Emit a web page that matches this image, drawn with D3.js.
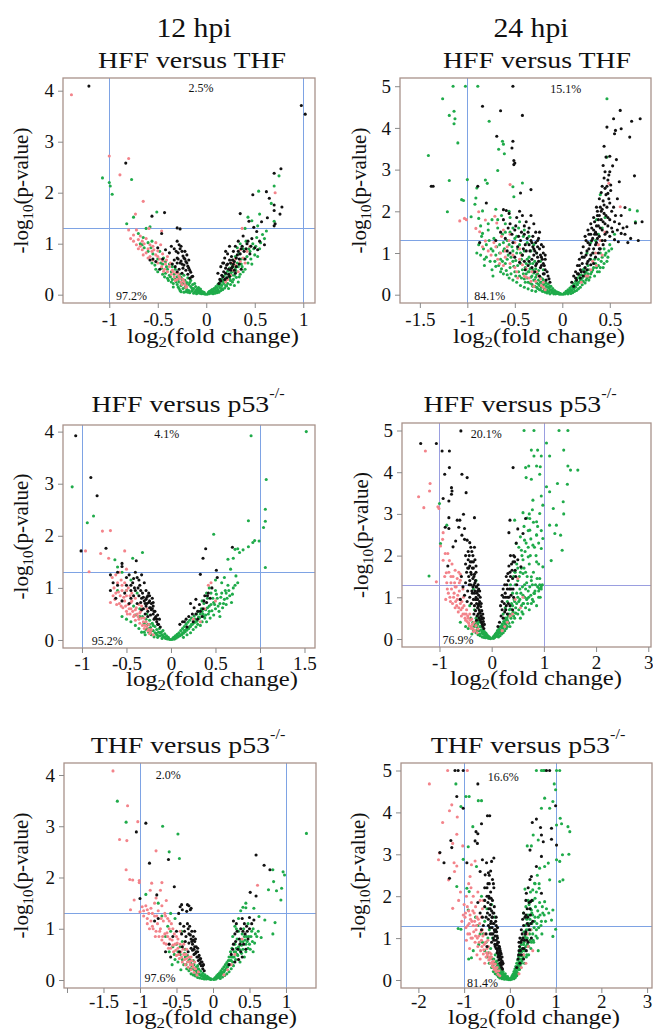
<!DOCTYPE html>
<html><head><meta charset="utf-8">
<script src="https://cdn.jsdelivr.net/npm/d3@7"></script>
<style>
body{margin:0;background:#fff}
svg{display:block}
text{font-family:"Liberation Serif","Times New Roman",serif;fill:#111}
</style>
</head><body>
<svg id="c" width="653" height="1032"></svg>
<script>
// ---------------- DATA ----------------
const timeLabels = ["12 hpi", "24 hpi"];
const panelTitles = ["HFF versus THF", "HFF versus THF", "HFF versus p53", "HFF versus p53", "THF versus p53", "THF versus p53"];
const titleSup = [null, null, "-/-", "-/-", "-/-", "-/-"];
const pctAbove = ["2.5%", "15.1%", "4.1%", "20.1%", "2.0%", "16.6%"];
const pctBelow = ["97.2%", "84.1%", "95.2%", "76.9%", "97.6%", "81.4%"];
const xTickValues = [[-1,-0.5,0,0.5,1],[-1.5,-1,-0.5,0,0.5],[-1,-0.5,0,0.5,1,1.5],[-1,0,1,2,3],[-2,-1.5,-1,-0.5,0,0.5,1],[-2,-1,0,1,2,3]];
const xTickUnlabelled = [[],[],[],[],[-2],[]];
const yTickValues = [[0,1,2,3,4],[0,1,2,3,4,5],[0,1,2,3,4],[0,1,2,3,4,5],[0,1,2,3,4],[0,1,2,3,4,5]];
const pValueCut = 1.3;
const foldCuts = [-1, 1];

// Panel 1: 12 hpi HFF vs THF
const p1Black = [[-1.21,4.09],[0.98,3.71],[1.02,3.54],[-0.83,2.58],[-0.56,1.54],[-0.43,1.61],[-0.30,1.31],[-0.27,1.29],[-0.46,1.2],
[0.77,2.47],[0.70,2.38],[0.62,2.02],[0.48,1.96],[0.65,1.89],[0.70,1.76],[0.78,1.72],[0.70,1.65],[0.76,1.58],[0.71,1.39],[0.70,1.35],[0.35,1.59],[0.44,1.44],[0.57,1.43],[0.63,1.51],[0.49,1.32],[0.52,1.24],
[0.47,1.1],[0.55,1.05],[0.6,0.98],[0.5,0.92],[0.42,1.0],[0.38,1.15],[0.36,0.9],[0.33,1.05],[0.3,0.95],[0.28,0.85],[0.32,0.78],[0.26,0.75],[0.24,0.68],[0.29,0.65],[0.22,0.6],[0.27,0.55],[0.2,0.52],[0.25,0.48],[0.18,0.45],[0.23,0.4],[0.16,0.38],[0.21,0.33],[0.14,0.3],[0.19,0.72],[0.17,0.62],[0.34,0.6],[0.4,0.7],[0.45,0.8],[0.53,0.88],[0.3,0.42],[0.36,0.5],[0.22,0.8],[0.15,0.55],[0.12,0.42],
[0.13,0.22],[0.15,0.27],[0.17,0.35],[0.19,0.3],[0.2,0.42],[0.21,0.58],[0.23,0.5],[0.24,0.36],[0.25,0.62],[0.26,0.52],[0.27,0.68],[0.28,0.6],[0.29,0.48],[0.31,0.72],[0.31,0.55],[0.33,0.85],[0.34,0.7],[0.35,0.8],[0.37,0.95],[0.39,0.85],[0.41,0.9],[0.43,1.05],[0.46,0.95],[0.24,0.95],[0.2,0.85],[0.18,0.62],
[-0.3,1.05],[-0.28,0.98],[-0.27,0.9],[-0.25,0.85],[-0.29,0.82],[-0.24,0.76],[-0.22,0.7],[-0.26,0.66],[-0.2,0.62],[-0.23,0.58],[-0.18,0.52],[-0.21,0.48],[-0.16,0.44],[-0.19,0.4],[-0.14,0.36],[-0.17,0.32],[-0.3,0.72],[-0.33,0.68],[-0.35,0.6],[-0.32,0.55],[-0.28,0.5],[-0.38,0.82],[-0.42,0.88],[-0.5,0.92],[-0.55,0.7],[-0.48,0.5],[-0.36,0.95],[-0.3,0.62],[-0.25,0.42],[-0.58,0.68],
[-0.15,0.35],[-0.17,0.48],[-0.19,0.56],[-0.21,0.65],[-0.23,0.72],[-0.25,0.6],[-0.27,0.62],[-0.29,0.7],[-0.31,0.85],[-0.33,0.9],[-0.26,0.95],[-0.22,0.85],[-0.2,0.78],[-0.18,0.68],[-0.24,0.52],[-0.45,0.7],[-0.52,0.65],[-0.3,0.45]];
const p1Pink = [[-1.39,3.92],[-1.0,2.72],[-0.80,2.67],[-0.89,2.35],[-0.65,1.83],[-0.73,1.58],[-0.80,1.27],[-0.75,1.17],[-0.78,1.10],[-0.72,1.27],[-0.59,1.30],[-0.46,1.25],[0.71,2.0],
[-0.75,1.05],[-0.72,0.98],[-0.7,1.08],[-0.68,0.95],[-0.66,0.88],[-0.64,1.0],[-0.62,0.82],[-0.6,0.9],[-0.58,0.75],[-0.56,0.85],[-0.55,0.68],[-0.52,0.78],[-0.5,0.62],[-0.48,0.7],[-0.46,0.55],[-0.45,0.66],[-0.43,0.5],[-0.42,0.6],[-0.4,0.45],[-0.38,0.55],[-0.36,0.4],[-0.35,0.48],[-0.33,0.35],[-0.31,0.42],[-0.3,0.3],[-0.28,0.36],[-0.26,0.25],[-0.24,0.3],[-0.22,0.2],[-0.2,0.16],[-0.55,0.95],[-0.5,0.86],[-0.45,0.8],[-0.62,1.1],[-0.68,1.15],[-0.4,0.75],[-0.52,1.02],[-0.47,0.98],[-0.65,0.78],[-0.6,0.72],
[-0.7,0.9],[-0.66,1.05],[-0.58,0.98],[-0.54,0.88],[-0.5,0.75],[-0.44,0.46],[-0.41,0.68],[-0.37,0.62],[-0.34,0.45],[-0.32,0.28],[-0.29,0.42],[-0.27,0.32],[-0.25,0.2],[-0.23,0.26],[-0.21,0.14],
[0.38,0.72],[0.35,0.65],[0.4,0.62],[0.28,0.48],[0.3,0.58],[0.25,0.38],[0.33,0.45],[0.37,1.3],[0.45,0.95],[0.22,0.3],[0.2,0.25],[0.42,0.85],[0.3,0.7],[0.27,0.62],[0.35,0.88],[0.24,0.5]];
const p1Green = [[-1.07,2.29],[-1.0,2.2],[-0.99,2.13],[-0.97,1.97],[-0.77,2.26],[-0.75,1.52],[-0.51,1.62],[-0.82,1.39],[-0.58,1.33],[0.75,2.33],[0.70,2.13],[0.54,2.03],[0.67,1.79],[0.70,1.44],[0.55,1.58],[0.43,1.52],[0.53,1.35],[0.47,1.45],[0.4,1.3],
[-0.7,1.2],[-0.65,1.12],[-0.62,1.3],[-0.6,1.02],[-0.57,0.92],[-0.55,0.8],[-0.5,0.7],[-0.48,0.85],[-0.45,0.6],[-0.44,0.72],[-0.42,0.42],[-0.42,0.65],[-0.4,0.5],[-0.38,0.38],[-0.36,0.45],[-0.35,0.3],[-0.34,0.22],[-0.33,0.4],[-0.32,0.5],[-0.3,0.2],[-0.3,0.35],[-0.29,0.15],[-0.28,0.25],[-0.27,0.4],[-0.27,0.08],[-0.26,0.18],[-0.25,0.3],[-0.24,0.22],[-0.24,0.12],[-0.23,0.38],[-0.22,0.28],[-0.22,0.14],[-0.21,0.06],[-0.2,0.24],[-0.2,0.1],[-0.19,0.33],[-0.18,0.2],[-0.18,0.08],[-0.17,0.04],[-0.16,0.16],[-0.16,0.28],[-0.15,0.07],[-0.14,0.2],[-0.14,0.1],[-0.13,0.12],[-0.13,0.03],[-0.12,0.05],[-0.12,0.22],[-0.11,0.16],[-0.1,0.1],[-0.1,0.02],[-0.09,0.05],[-0.08,0.14],[-0.08,0.08],[-0.07,0.03],[-0.06,0.06],[-0.06,0.11],[-0.05,0.02],[-0.04,0.05],[-0.03,0.02],[-0.02,0.04],[-0.01,0.01],[-0.53,0.58],[-0.38,0.6],[-0.32,0.3],[-0.26,0.34],[-0.36,0.25],[-0.4,0.32],
[-0.68,1.0],[-0.64,0.92],[-0.6,0.85],[-0.56,0.62],[-0.52,0.5],[-0.5,0.45],[-0.47,0.62],[-0.45,0.4],[-0.43,0.35],[-0.41,0.55],[-0.39,0.28],[-0.37,0.35],[-0.35,0.55],[-0.34,0.15],[-0.31,0.25],[-0.29,0.3],[-0.28,0.12],[-0.26,0.06],[-0.25,0.22],[-0.23,0.05],[-0.21,0.2],[-0.19,0.05],[-0.17,0.24],[-0.15,0.13],[-0.11,0.07],[-0.09,0.12],[-0.07,0.1],[-0.05,0.07],[-0.03,0.05],[-0.46,0.52],[-0.56,1.05],[-0.66,0.98],
[0.01,0.01],[0.02,0.04],[0.03,0.02],[0.04,0.07],[0.05,0.03],[0.06,0.1],[0.06,0.05],[0.07,0.02],[0.08,0.12],[0.08,0.06],[0.09,0.03],[0.1,0.16],[0.1,0.08],[0.11,0.04],[0.12,0.2],[0.12,0.1],[0.13,0.05],[0.14,0.24],[0.14,0.14],[0.15,0.08],[0.16,0.3],[0.16,0.18],[0.17,0.1],[0.18,0.36],[0.18,0.22],[0.19,0.13],[0.2,0.4],[0.2,0.28],[0.21,0.17],[0.22,0.46],[0.22,0.22],[0.23,0.12],[0.24,0.52],[0.24,0.32],[0.25,0.2],[0.26,0.6],[0.26,0.38],[0.27,0.25],[0.28,0.68],[0.28,0.3],[0.29,0.18],[0.3,0.5],[0.3,0.75],[0.31,0.34],[0.32,0.62],[0.33,0.25],[0.34,0.8],[0.35,0.4],[0.36,0.7],[0.37,0.55],[0.38,0.9],[0.4,0.5],[0.41,1.05],[0.43,0.62],[0.44,0.9],[0.46,0.7],[0.48,1.0],[0.5,0.78],[0.52,1.12],[0.55,0.9],[0.58,1.18],[0.35,1.0],[0.32,0.92],
[0.03,0.06],[0.05,0.08],[0.07,0.09],[0.09,0.12],[0.11,0.14],[0.13,0.18],[0.15,0.2],[0.17,0.26],[0.19,0.28],[0.21,0.3],[0.23,0.35],[0.25,0.42],[0.27,0.45],[0.29,0.38],[0.31,0.46],[0.33,0.55],[0.34,0.35],[0.36,0.6],[0.38,0.45],[0.39,0.7],[0.42,0.75],[0.45,0.85],[0.47,0.6],[0.49,0.9],[0.51,0.95],[0.53,0.75],[0.56,1.02],[0.6,1.1],[0.62,1.25],[0.28,0.55],[0.25,0.28],[0.2,0.18],[0.16,0.12],[0.12,0.08]];

// Panel 2: 24 hpi HFF vs THF
const p2Black = [[-0.52,5.0],[-0.84,4.52],[-0.65,4.41],[-0.42,4.3],[-0.69,3.8],[-0.52,3.68],[-0.53,3.52],[-0.51,3.22],[-0.5,3.16],[-0.51,3.12],[-1.36,2.6],[-1.38,2.6],[-0.89,2.6],[-0.33,2.52],[-0.44,2.44],[-0.8,2.2],[-0.62,2.04],[-0.59,2.02],[-0.56,1.95],
[0.61,4.42],[0.54,4.22],[0.82,4.22],[0.73,4.16],[0.47,4.02],[0.56,3.94],[0.62,3.98],[0.55,3.86],[0.71,3.78],[0.44,3.56],[0.5,3.32],[0.57,3.24],[0.53,3.09],[0.76,2.85],[0.6,2.71],[0.45,2.95],[0.49,2.87],[0.51,2.63],[0.48,2.43],[0.66,2.09],[0.77,1.72],[0.84,1.75],[0.62,1.47],[0.68,1.63],[0.53,1.51],[0.59,1.27],[0.69,1.25],[0.55,1.32],
[-0.3,1.7],[-0.35,1.6],[-0.28,1.5],[-0.25,1.35],[-0.38,1.75],[-0.42,1.9],[-0.45,2.0],[-0.48,1.85],[-0.4,1.45],[-0.32,1.25],[-0.3,1.1],[-0.27,1.0],[-0.22,0.9],[-0.25,0.8],[-0.2,0.75],[-0.23,0.65],[-0.18,0.6],[-0.2,0.5],[-0.15,0.45],[-0.17,0.35],[-0.13,0.3],[-0.35,1.2],[-0.38,1.05],[-0.3,0.95],[-0.27,0.75],[-0.32,0.85],[-0.44,1.3],[-0.5,1.55],[-0.55,1.7],[-0.6,1.35],[-0.52,1.25],[-0.47,1.15],[-0.42,0.95],[-0.36,0.7],[-0.29,0.55],[-0.24,0.45],[-0.22,1.2],[-0.2,1.0],[-0.18,0.85],[-0.26,1.3],[-0.24,1.1],[-0.31,1.4],[-0.33,1.9],[-0.36,1.5],[-0.4,1.65],[-0.65,1.5],[-0.7,1.3],[-0.58,1.05],[-0.45,0.78],[-0.39,0.6],[-0.5,0.9],[-0.55,1.0],[-0.87,1.25],
[-0.16,0.55],[-0.19,0.7],[-0.21,0.85],[-0.23,0.95],[-0.26,1.15],[-0.28,1.25],[-0.29,1.05],[-0.31,1.15],[-0.33,1.3],[-0.34,1.05],[-0.37,1.35],[-0.39,1.2],[-0.41,1.1],[-0.43,1.5],[-0.46,1.4],[-0.49,1.65],[-0.53,1.45],[-0.57,1.6],[-0.62,1.8],[-0.26,0.9],[-0.22,0.7],[-0.19,0.5],[-0.28,0.7],[-0.35,0.8],[-0.32,0.65],[-0.4,0.8],[-0.14,0.38],[-0.24,1.5],[-0.2,1.15],[-0.18,0.95],
[0.1,0.3],[0.12,0.45],[0.14,0.55],[0.15,0.35],[0.16,0.7],[0.17,0.5],[0.18,0.85],[0.19,0.6],[0.2,1.0],[0.21,0.75],[0.22,1.15],[0.23,0.9],[0.24,0.65],[0.25,1.3],[0.26,1.05],[0.27,0.8],[0.28,1.45],[0.29,1.2],[0.3,0.95],[0.31,1.6],[0.32,1.35],[0.33,1.1],[0.34,1.75],[0.35,1.5],[0.36,1.25],[0.37,1.9],[0.38,1.65],[0.39,1.4],[0.4,2.1],[0.41,1.8],[0.42,1.55],[0.43,2.25],[0.44,1.95],[0.45,1.7],[0.46,2.4],[0.47,2.1],[0.48,1.85],[0.5,2.2],[0.52,2.0],[0.36,2.1],[0.39,2.3],[0.42,2.6],[0.44,2.8],[0.33,1.85],[0.3,1.7],[0.27,1.55],[0.24,1.4],[0.4,1.1],[0.45,1.3],[0.5,1.4],[0.35,0.9],[0.38,1.0],[0.3,0.72],[0.26,0.6],[0.43,1.2],[0.47,1.5],[0.55,1.75],[0.58,1.55],[0.41,2.45],[0.37,2.0],[0.2,0.55],[0.22,0.45],
[0.12,0.2],[0.14,0.4],[0.16,0.5],[0.18,0.7],[0.19,0.4],[0.21,0.9],[0.23,0.55],[0.25,0.95],[0.26,0.75],[0.28,1.1],[0.29,0.85],[0.31,1.3],[0.32,1.0],[0.33,0.75],[0.34,1.45],[0.35,1.2],[0.36,1.65],[0.37,1.35],[0.38,1.8],[0.39,1.1],[0.4,1.6],[0.41,2.0],[0.42,1.3],[0.43,1.75],[0.44,2.15],[0.45,1.45],[0.46,1.9],[0.47,2.6],[0.48,1.65],[0.49,2.3],[0.5,1.8],[0.51,2.5],[0.52,1.6],[0.54,2.1],[0.56,1.9],[0.58,2.3],[0.6,1.7],[0.62,1.9],[0.64,1.6],[0.66,1.45],[0.72,1.35],[0.8,1.3],[0.3,1.45],[0.27,1.25],[0.33,1.55],[0.36,1.45],[0.39,1.9],[0.42,2.05],[0.45,2.55],[0.48,2.75],[0.5,2.95],[0.43,3.1],[0.46,3.3]];
const p2Pink = [[-0.55,2.64],[-1.03,1.83],[-1.01,1.8],[-1.08,1.77],[-0.88,1.99],[-0.81,1.79],[-0.71,1.88],[-0.69,1.72],[-0.91,1.59],[-0.87,1.51],[-0.81,1.29],[0.49,2.67],[0.61,2.11],
[-0.75,0.95],[-0.7,1.15],[-0.65,1.0],[-0.6,0.9],[-0.55,0.75],[-0.5,0.65],[-0.45,0.85],[-0.42,0.72],[-0.38,0.62],[-0.35,0.4],[-0.32,0.55],[-0.28,0.32],[-0.25,0.45],[-0.22,0.22],[-0.2,0.3],[-0.18,0.12],[-0.45,1.1],[-0.5,1.25],[-0.58,1.15],[-0.62,0.7],[-0.68,0.85],[-0.4,0.45],[-0.3,0.2],[-0.55,1.45],[-0.64,1.4],[-0.47,0.4],[-0.78,1.05],
[-0.66,0.75],[-0.6,1.05],[-0.52,0.95],[-0.48,0.55],[-0.43,0.95],[-0.38,0.42],[-0.33,0.32],[-0.27,0.55],[-0.23,0.38],[-0.2,0.18],[-0.62,1.55],[-0.56,1.3],[-0.72,1.25],[-0.84,1.15],
[0.3,0.6],[0.35,1.0],[0.25,0.45],[0.4,1.3],[0.32,0.8],[0.2,0.3],[0.38,1.2],[0.45,1.5],[0.27,0.45],[0.36,0.7],[0.42,0.95]];
const p2Green = [[-1.15,5.0],[-1.02,5.0],[-0.89,5.0],[-1.26,4.7],[-1.14,4.4],[-1.19,4.3],[-1.13,4.22],[-1.14,4.1],[-0.77,4.16],[-1.1,3.64],[-0.63,3.68],[-0.62,3.61],[-0.67,3.49],[-0.61,3.38],[-1.41,3.34],[-0.68,2.98],[-1.19,2.74],[-1.0,2.76],[-0.9,2.56],[-0.81,2.75],[-0.79,2.67],[-0.52,2.59],[-0.51,2.35],[-0.42,2.68],[-1.06,2.28],[-1.04,2.26],[-1.21,1.99],[-0.91,2.32],[-0.92,2.17],[-0.84,2.01],[-0.96,1.87],[-0.88,1.83],[-0.84,1.47],[0.47,4.7],[0.47,3.3],[0.71,2.04],[0.79,2.01],[0.77,1.75],
[-0.85,1.4],[-0.8,1.2],[-0.78,1.55],[-0.75,1.1],[-0.72,1.35],[-0.7,0.95],[-0.68,1.6],[-0.66,1.2],[-0.65,0.85],[-0.63,1.45],[-0.62,1.05],[-0.6,0.75],[-0.6,1.7],[-0.58,1.3],[-0.57,0.95],[-0.55,0.65],[-0.55,1.5],[-0.53,1.15],[-0.52,0.8],[-0.5,0.55],[-0.5,1.35],[-0.48,1.0],[-0.47,0.7],[-0.46,1.6],[-0.45,0.45],[-0.45,1.2],[-0.43,0.85],[-0.42,0.6],[-0.41,1.4],[-0.4,0.38],[-0.4,1.05],[-0.38,0.75],[-0.38,0.5],[-0.37,1.25],[-0.36,0.3],[-0.35,0.9],[-0.34,0.62],[-0.33,0.42],[-0.33,1.05],[-0.32,0.25],[-0.31,0.75],[-0.3,0.52],[-0.3,0.35],[-0.29,0.2],[-0.28,0.62],[-0.28,0.42],[-0.27,0.28],[-0.26,0.15],[-0.26,0.5],[-0.25,0.35],[-0.24,0.22],[-0.24,0.12],[-0.23,0.42],[-0.22,0.3],[-0.22,0.18],[-0.21,0.08],[-0.2,0.36],[-0.2,0.24],[-0.19,0.14],[-0.18,0.06],[-0.18,0.3],[-0.17,0.2],[-0.16,0.1],[-0.16,0.04],[-0.15,0.25],[-0.14,0.16],[-0.14,0.07],[-0.13,0.02],[-0.12,0.2],[-0.12,0.11],[-0.11,0.05],[-0.1,0.15],[-0.1,0.08],[-0.09,0.02],[-0.08,0.1],[-0.08,0.05],[-0.07,0.02],[-0.06,0.07],[-0.05,0.03],[-0.04,0.05],[-0.03,0.01],[-0.02,0.03],[-0.01,0.01],[-0.73,0.45],[-0.65,0.55],[-0.58,0.48],[-0.52,0.35],[-0.48,0.3],[-0.44,0.22],[-0.4,0.18],[-0.36,0.14],[-0.32,0.1],[-0.28,0.08],[-0.9,1.0],[-0.82,0.85],[-0.76,0.8],[-0.7,0.68],[-0.86,1.65],[-0.74,1.8],[-0.64,1.9],[-0.56,2.0],[-0.62,1.25],[-0.44,1.0],[-0.36,0.55],
[-0.88,1.2],[-0.86,0.95],[-0.83,1.1],[-0.8,0.9],[-0.77,1.3],[-0.74,0.6],[-0.73,1.05],[-0.71,0.8],[-0.69,1.15],[-0.67,0.7],[-0.66,1.0],[-0.64,0.62],[-0.63,0.8],[-0.61,1.1],[-0.59,0.58],[-0.58,0.85],[-0.56,1.2],[-0.54,0.5],[-0.54,0.9],[-0.52,1.05],[-0.51,0.68],[-0.49,0.45],[-0.49,0.82],[-0.47,1.1],[-0.46,0.55],[-0.44,0.75],[-0.43,0.4],[-0.42,0.95],[-0.41,0.5],[-0.39,0.65],[-0.39,0.3],[-0.37,0.85],[-0.37,0.4],[-0.35,0.55],[-0.34,0.28],[-0.34,0.75],[-0.32,0.45],[-0.31,0.2],[-0.31,0.6],[-0.29,0.35],[-0.29,0.8],[-0.27,0.48],[-0.27,0.18],[-0.25,0.58],[-0.25,0.25],[-0.23,0.3],[-0.23,0.12],[-0.21,0.38],[-0.21,0.2],[-0.19,0.26],[-0.19,0.08],[-0.17,0.12],[-0.17,0.28],[-0.15,0.18],[-0.15,0.06],[-0.13,0.12],[-0.13,0.2],[-0.11,0.1],[-0.09,0.07],[-0.07,0.05],[-0.05,0.04],[-0.03,0.03],[-0.6,1.5],[-0.52,1.6],[-0.48,1.4],[-0.45,1.75],[-0.4,1.55],[-0.35,1.4],[-0.3,1.2],[-0.27,1.0],[-0.23,0.8],[-0.2,0.6],[-0.68,1.8],[-0.78,1.7],[-0.7,2.05],[-0.55,1.85],[-0.82,0.7],[-0.62,0.5],[-0.56,0.4],
[0.01,0.01],[0.02,0.04],[0.03,0.02],[0.04,0.08],[0.05,0.04],[0.06,0.12],[0.06,0.02],[0.07,0.06],[0.08,0.16],[0.08,0.08],[0.09,0.03],[0.1,0.2],[0.1,0.1],[0.11,0.05],[0.12,0.26],[0.12,0.14],[0.13,0.08],[0.14,0.32],[0.14,0.18],[0.15,0.1],[0.16,0.4],[0.16,0.24],[0.17,0.14],[0.18,0.46],[0.18,0.3],[0.19,0.18],[0.2,0.38],[0.21,0.24],[0.22,0.6],[0.22,0.32],[0.24,0.28],[0.24,0.5],[0.26,0.4],[0.27,0.7],[0.28,0.35],[0.3,0.5],[0.3,0.85],[0.32,0.6],[0.34,0.45],[0.35,0.75],[0.37,0.55],[0.38,0.85],[0.4,0.65],[0.42,0.9],[0.44,0.75],[0.46,1.0],[0.48,0.9],[0.35,1.3],[0.38,1.45],[0.3,1.25],[0.42,1.6],[0.45,1.85],[0.4,2.4],[0.36,1.8],[0.5,1.2],[0.55,1.45],[0.26,1.0],[0.33,1.0],
[0.05,0.06],[0.07,0.1],[0.09,0.12],[0.11,0.16],[0.13,0.2],[0.15,0.26],[0.17,0.3],[0.19,0.35],[0.2,0.48],[0.21,0.4],[0.23,0.45],[0.23,0.62],[0.25,0.55],[0.25,0.35],[0.27,0.5],[0.28,0.6],[0.29,0.42],[0.31,0.55],[0.33,0.65],[0.34,0.85],[0.36,0.65],[0.38,0.7],[0.39,0.55],[0.41,0.8],[0.43,0.65],[0.45,0.95],[0.47,0.8],[0.49,1.05],[0.52,1.1],[0.4,1.0],[0.44,1.1]];

// Panel 3: 12 hpi HFF vs p53-/-
const p3Black = [[-1.07,3.92],[-0.9,3.12],[-0.83,2.77],[-1.01,1.71],[-0.73,1.76],[-0.55,1.47],[-0.55,1.41],[-0.39,1.52],[0.69,1.78],[0.39,1.75],[0.36,1.57],[0.51,1.34],[0.33,1.26],[0.52,1.2],
[-0.68,1.25],[-0.68,0.95],[-0.6,1.05],[-0.55,0.75],[-0.5,1.2],[-0.47,1.25],[-0.45,1.05],[-0.42,1.18],[-0.4,0.95],[-0.38,1.2],[-0.36,0.85],[-0.35,1.05],[-0.33,1.25],[-0.32,0.9],[-0.3,0.75],[-0.3,1.1],[-0.28,0.95],[-0.28,0.65],[-0.27,0.82],[-0.26,0.55],[-0.25,0.72],[-0.25,0.9],[-0.24,0.62],[-0.23,0.48],[-0.22,0.7],[-0.22,0.58],[-0.21,0.8],[-0.2,0.5],[-0.2,0.65],[-0.19,0.4],[-0.18,0.55],[-0.17,0.45],[-0.16,0.35],[-0.15,0.48],[-0.14,0.3],[-0.13,0.4],[-0.12,0.25],[-0.34,0.72],[-0.31,0.6],[-0.29,0.5],[-0.38,0.7],[-0.42,0.85],[-0.45,0.8],[-0.52,0.9],[-0.62,0.8],[-0.28,0.78],[-0.24,0.85],[-0.26,0.45],[-0.2,0.72],[-0.36,1.15],[-0.4,1.3],
[-0.45,0.95],[-0.43,1.1],[-0.41,1.0],[-0.37,1.0],[-0.34,0.95],[-0.33,0.8],[-0.31,0.82],[-0.29,0.7],[-0.27,0.7],[-0.26,0.85],[-0.24,0.75],[-0.23,0.62],[-0.21,0.6],[-0.19,0.55],[-0.18,0.42],[-0.16,0.4],[-0.15,0.3],[-0.6,1.3],[-0.65,1.1],[-0.5,1.05],[-0.47,0.7],[-0.33,0.58],
[0.1,0.3],[0.15,0.35],[0.2,0.45],[0.22,0.7],[0.24,0.5],[0.26,0.62],[0.28,0.78],[0.3,0.55],[0.32,0.68],[0.35,0.45],[0.38,0.85],[0.4,0.72],[0.42,0.9],[0.25,0.35],[0.3,0.4],[0.18,0.25],[0.44,0.8],[0.36,0.6],[0.46,1.0],[0.13,0.35],[0.17,0.4],[0.28,0.5],[0.33,0.55],[0.37,0.75],[0.41,0.85]];
const p3Pink = [[-0.77,2.09],[-0.68,2.1],[-0.96,1.71],[-0.92,1.31],[-0.79,1.66],[-0.7,1.57],[-0.52,1.71],[-0.5,1.36],
[-0.66,1.2],[-0.64,1.0],[-0.63,0.78],[-0.62,0.9],[-0.6,1.1],[-0.58,0.7],[-0.57,0.85],[-0.55,0.95],[-0.54,0.62],[-0.52,0.75],[-0.5,0.55],[-0.5,0.85],[-0.48,0.68],[-0.46,0.5],[-0.45,0.6],[-0.44,0.75],[-0.42,0.45],[-0.4,0.58],[-0.4,0.38],[-0.38,0.5],[-0.36,0.4],[-0.35,0.32],[-0.34,0.55],[-0.32,0.28],[-0.3,0.42],[-0.3,0.22],[-0.28,0.35],[-0.26,0.18],[-0.25,0.3],[-0.24,0.12],[-0.22,0.2],[-0.2,0.1],[-0.68,0.72],[-0.56,1.15],[-0.48,1.0],[-0.62,1.25],[-0.44,0.9],[-0.33,0.65],[-0.27,0.6],[-0.58,1.3],[-0.52,1.1],
[-0.65,0.85],[-0.61,0.68],[-0.59,0.92],[-0.56,0.65],[-0.53,0.82],[-0.51,0.65],[-0.49,0.5],[-0.47,0.6],[-0.45,0.72],[-0.43,0.55],[-0.41,0.48],[-0.39,0.62],[-0.37,0.45],[-0.35,0.52],[-0.33,0.42],[-0.31,0.35],[-0.29,0.28],[-0.27,0.25],[-0.25,0.2],[-0.23,0.15],[-0.36,0.68],[-0.4,0.8],[-0.46,0.85],[-0.5,0.95],[-0.55,1.05],
[0.45,1.1],[0.42,1.05],[0.38,0.6],[0.25,0.4],[0.5,0.75],[0.33,0.35]];
const p3Green = [[1.52,4.0],[0.9,3.92],[-1.11,2.94],[-0.87,2.38],[-0.94,2.25],[1.07,3.08],[1.06,2.51],[1.06,2.28],[0.87,2.29],[1.04,2.16],[0.94,1.91],[0.92,1.87],[0.99,1.9],[0.87,1.79],[0.81,1.73],[0.75,1.75],[0.72,1.74],[0.77,1.68],[0.7,1.57],[0.64,1.55],[1.06,1.39],[0.67,1.36],[0.73,1.23],[0.48,2.03],[-0.32,1.68],[-0.43,1.57],[-0.63,1.54],[-0.6,1.4],
[-0.6,0.95],[-0.55,1.3],[-0.5,0.95],[-0.45,1.15],[-0.42,0.65],[-0.38,0.9],[-0.35,0.6],[-0.32,0.45],[-0.3,0.32],[-0.28,0.2],[-0.27,0.5],[-0.26,0.3],[-0.25,0.15],[-0.24,0.38],[-0.23,0.24],[-0.22,0.1],[-0.21,0.32],[-0.2,0.18],[-0.19,0.06],[-0.18,0.26],[-0.17,0.13],[-0.16,0.2],[-0.15,0.05],[-0.14,0.15],[-0.13,0.22],[-0.12,0.08],[-0.11,0.15],[-0.1,0.03],[-0.1,0.1],[-0.09,0.18],[-0.08,0.06],[-0.07,0.12],[-0.06,0.03],[-0.05,0.08],[-0.04,0.02],[-0.03,0.05],[-0.02,0.02],[-0.01,0.01],[-0.36,0.22],[-0.4,0.28],[-0.33,0.15],[-0.29,0.1],
[-0.3,0.15],[-0.28,0.4],[-0.26,0.22],[-0.24,0.3],[-0.22,0.18],[-0.2,0.28],[-0.18,0.14],[-0.16,0.1],[-0.14,0.08],[-0.12,0.14],[-0.09,0.08],[-0.07,0.05],[-0.35,0.45],[-0.4,0.48],[-0.45,0.35],[-0.5,0.4],[-0.55,0.45],
[0.01,0.01],[0.02,0.03],[0.03,0.05],[0.04,0.02],[0.05,0.08],[0.06,0.04],[0.07,0.11],[0.08,0.06],[0.09,0.14],[0.1,0.08],[0.11,0.18],[0.12,0.1],[0.13,0.22],[0.14,0.05],[0.14,0.13],[0.15,0.26],[0.16,0.16],[0.17,0.3],[0.18,0.1],[0.18,0.19],[0.19,0.34],[0.2,0.22],[0.21,0.38],[0.22,0.14],[0.22,0.26],[0.23,0.42],[0.24,0.3],[0.25,0.2],[0.26,0.46],[0.27,0.34],[0.28,0.25],[0.29,0.5],[0.3,0.3],[0.31,0.55],[0.32,0.42],[0.33,0.28],[0.34,0.6],[0.35,0.35],[0.36,0.5],[0.37,0.7],[0.38,0.42],[0.39,0.58],[0.4,0.35],[0.41,0.8],[0.42,0.5],[0.43,0.65],[0.44,0.42],[0.45,0.9],[0.46,0.56],[0.48,0.72],[0.48,0.48],[0.5,0.6],[0.5,0.95],[0.52,0.8],[0.54,0.55],[0.55,0.7],[0.57,0.9],[0.58,0.62],[0.6,0.78],[0.62,0.68],[0.64,1.05],[0.66,0.85],[0.68,0.72],[0.62,0.9],[0.57,1.1],[0.5,1.15],[0.43,1.0],[0.55,0.45],[0.6,1.2],[0.7,1.0],
[0.03,0.02],[0.05,0.04],[0.07,0.07],[0.09,0.08],[0.11,0.1],[0.13,0.14],[0.15,0.18],[0.17,0.2],[0.19,0.22],[0.21,0.26],[0.23,0.3],[0.25,0.32],[0.27,0.4],[0.29,0.36],[0.31,0.44],[0.33,0.5],[0.35,0.55],[0.37,0.45],[0.39,0.48],[0.41,0.62],[0.43,0.55],[0.45,0.68],[0.47,0.8],[0.49,0.68],[0.51,0.88],[0.53,0.65],[0.56,0.82],[0.59,0.7],[0.61,0.95],[0.63,0.8],[0.65,0.95],[0.69,0.88],[0.72,1.05],[0.75,1.1],[0.4,0.9],[0.35,0.75]];

// Panel 4: 24 hpi HFF vs p53-/-
const p4Black = [[-1.36,4.69],[-1.06,4.69],[-0.59,4.99],[-0.95,4.51],[-0.81,4.51],[-0.81,4.11],[-0.9,3.95],[-0.57,3.95],[-0.47,3.87],[-0.77,3.63],[-0.76,3.55],[-0.49,3.51],[-0.77,3.47],[-0.93,3.37],[-0.82,3.31],[-0.54,2.99],[-0.33,2.91],[-0.61,2.85],[-0.66,2.85],[-0.82,2.91],[-0.89,2.68],[-0.82,2.65],[-0.63,2.68],[-0.52,2.65],[-0.57,2.49],[-0.52,2.39],[-0.47,2.37],[-0.42,2.31],[-0.69,2.35],[-0.74,2.21],[-0.84,1.75],[0.41,4.11],[0.35,2.85],[0.33,2.55],[0.5,2.64],[0.6,2.53],[0.65,2.89],[0.44,1.97],[0.41,1.85],[0.56,1.73],[0.31,1.57],
[-0.45,1.9],[-0.42,1.75],[-0.4,1.6],[-0.38,1.85],[-0.36,1.45],[-0.35,1.7],[-0.34,1.3],[-0.33,1.55],[-0.32,1.15],[-0.31,1.4],[-0.3,1.0],[-0.3,1.25],[-0.29,0.85],[-0.28,1.1],[-0.27,0.75],[-0.27,0.95],[-0.26,0.6],[-0.25,0.82],[-0.25,1.05],[-0.24,0.5],[-0.24,0.7],[-0.23,0.9],[-0.22,0.45],[-0.22,0.62],[-0.21,0.78],[-0.2,0.4],[-0.2,0.55],[-0.19,0.68],[-0.18,0.35],[-0.18,0.48],[-0.17,0.3],[-0.16,0.42],[-0.15,0.25],[-0.14,0.35],[-0.48,1.6],[-0.5,1.8],[-0.44,1.5],[-0.4,1.3],[-0.37,1.1],[-0.35,0.95],[-0.33,0.8],[-0.31,0.68],[-0.28,0.55],[-0.5,1.35],[-0.46,1.15],[-0.42,1.0],[-0.39,0.85],[-0.55,1.25],[-0.58,1.5],[-0.52,1.05],[-0.36,2.0],[-0.32,1.9],[-0.45,2.1],[-0.4,2.2],[-0.34,0.6],[-0.29,0.45],[-0.26,1.3],[-0.23,1.15],[-0.6,0.95],[-0.47,0.9],[-0.3,1.6],[-0.43,1.3],
[-0.44,1.7],[-0.42,1.4],[-0.41,1.85],[-0.39,1.55],[-0.38,1.15],[-0.37,1.7],[-0.36,1.25],[-0.34,1.5],[-0.33,1.1],[-0.32,1.35],[-0.31,0.95],[-0.3,1.75],[-0.29,1.25],[-0.28,0.95],[-0.27,1.15],[-0.26,0.8],[-0.25,1.2],[-0.24,0.85],[-0.23,0.65],[-0.22,1.0],[-0.21,0.55],[-0.2,0.85],[-0.19,0.5],[-0.17,0.6],[-0.16,0.5],[-0.35,1.85],[-0.38,2.1],[-0.33,2.2],[-0.46,1.7],[-0.5,2.0],[-0.43,2.0],
[0.15,0.4],[0.18,0.55],[0.2,0.7],[0.22,0.5],[0.24,0.85],[0.25,0.65],[0.27,1.0],[0.28,0.8],[0.3,1.2],[0.3,0.6],[0.32,1.4],[0.33,1.0],[0.35,1.6],[0.35,0.8],[0.37,1.2],[0.38,1.8],[0.4,1.45],[0.42,1.0],[0.42,2.0],[0.45,1.65],[0.48,1.3],[0.5,1.9],[0.25,1.3],[0.28,1.5],[0.2,1.05],[0.22,1.2],[0.33,1.75],[0.36,2.0],[0.47,2.3],[0.4,0.7],[0.17,0.8],[0.12,0.3],
[0.2,0.9],[0.23,1.0],[0.26,1.1],[0.29,1.3],[0.31,1.0],[0.34,1.2],[0.36,1.5],[0.39,1.65],[0.41,1.2],[0.44,1.85],[0.46,1.5],[0.27,0.7],[0.32,0.85],[0.37,1.05]];
const p4Pink = [[-1.27,4.51],[-1.4,3.41],[-1.18,3.73],[-1.19,3.55],[-1.3,3.15],[-1.03,3.17],[-1.01,3.13],[-0.93,2.55],[-0.94,2.39],[-0.98,2.23],[-0.89,2.05],[-0.84,2.05],[-0.93,1.89],[-0.81,1.88],[-0.87,1.59],[-1.06,1.37],[-0.6,1.41],[-0.63,1.6],
[-0.85,1.2],[-0.8,1.0],[-0.78,1.35],[-0.75,0.85],[-0.72,1.1],[-0.7,0.75],[-0.68,1.25],[-0.66,0.95],[-0.64,0.65],[-0.62,1.15],[-0.6,0.85],[-0.58,0.55],[-0.56,0.75],[-0.54,1.0],[-0.52,0.6],[-0.5,0.45],[-0.48,0.7],[-0.46,0.55],[-0.44,0.38],[-0.42,0.6],[-0.4,0.3],[-0.38,0.48],[-0.36,0.25],[-0.34,0.4],[-0.32,0.2],[-0.3,0.32],[-0.28,0.15],[-0.26,0.24],[-0.9,1.5],[-0.82,1.6],[-0.74,1.5],[-0.66,1.45],[-0.7,1.65],[-0.76,1.8],[-0.62,1.35],[-0.55,1.2],[-0.6,1.55],[-0.88,0.95],
[-0.83,1.1],[-0.79,0.9],[-0.77,1.2],[-0.73,1.0],[-0.71,1.35],[-0.69,0.9],[-0.67,0.8],[-0.65,1.05],[-0.63,0.75],[-0.61,0.95],[-0.59,0.7],[-0.57,0.9],[-0.55,0.6],[-0.53,0.8],[-0.51,0.5],[-0.49,0.6],[-0.47,0.42],[-0.45,0.5],[-0.43,0.32],[-0.41,0.45],[-0.39,0.25],[-0.37,0.35],[-0.35,0.18],[-0.78,1.5],[-0.7,1.25],[-0.86,1.35],
[0.3,0.4],[0.4,0.6],[0.45,0.95],[0.5,1.45],[0.35,0.55],[0.25,0.3],[0.55,0.75],[0.2,0.2],[0.6,1.0]];
const p4Green = [[-1.2,1.51],[-0.98,2.29],[-0.86,2.73],[-1.0,3.25],
[0.62,5.0],[0.81,5.0],[1.29,5.0],[1.46,5.0],[1.05,4.7],[0.76,4.53],[0.88,4.53],[1.38,4.53],[0.81,4.39],[0.95,4.39],[1.11,4.39],[0.65,4.11],[0.71,4.15],[0.86,4.15],[0.93,4.13],[1.46,4.15],[1.51,4.05],[1.65,4.05],[0.66,3.87],[0.76,3.83],[0.92,3.95],[1.26,3.73],[1.45,3.71],[1.05,3.65],[1.11,3.53],[0.95,3.43],[0.79,3.33],[0.98,3.21],[1.18,3.13],[1.37,3.29],[1.38,3.0],[0.92,3.01],[0.6,3.03],[0.44,2.85],[0.73,2.89],[0.86,2.81],[1.11,2.73],[1.24,2.73],[1.32,2.49],[1.21,2.53],[1.35,2.13],[1.14,1.88],[0.73,2.61],[0.86,2.49],[0.63,2.37],[0.79,2.25],[0.95,2.17],[0.47,2.29],[0.57,2.13],[0.7,1.97],[0.86,1.85],[0.98,1.73],[0.44,1.61],[0.6,1.57],[0.76,1.49],[0.92,1.45],[0.95,1.25],[0.91,1.21],[0.82,1.09],[0.68,0.97],[0.76,0.85],[0.6,0.85],[0.98,2.41],
[-0.35,0.2],[-0.32,0.35],[-0.3,0.15],[-0.28,0.28],[-0.26,0.1],[-0.25,0.4],[-0.24,0.2],[-0.22,0.3],[-0.22,0.08],[-0.2,0.22],[-0.19,0.14],[-0.18,0.05],[-0.17,0.22],[-0.16,0.12],[-0.15,0.04],[-0.14,0.18],[-0.13,0.09],[-0.12,0.03],[-0.11,0.14],[-0.1,0.06],[-0.09,0.1],[-0.08,0.03],[-0.07,0.07],[-0.06,0.02],[-0.05,0.05],[-0.04,0.02],[-0.03,0.03],[-0.02,0.01],[-0.4,0.5],[-0.45,0.25],[-0.5,0.3],[-0.38,0.12],[-0.3,0.5],[-0.27,0.55],[-0.33,0.7],[-0.21,0.4],[-0.35,1.2],[-0.3,1.4],[-0.6,0.4],[-0.42,0.8],
[-0.34,0.3],[-0.31,0.4],[-0.29,0.2],[-0.27,0.35],[-0.23,0.12],[-0.21,0.3],[-0.19,0.2],[-0.16,0.18],[-0.13,0.12],[-0.1,0.09],[-0.36,0.4],[-0.26,0.45],
[0.02,0.02],[0.03,0.05],[0.04,0.02],[0.05,0.08],[0.06,0.04],[0.07,0.12],[0.08,0.06],[0.09,0.15],[0.1,0.08],[0.11,0.2],[0.12,0.12],[0.13,0.05],[0.14,0.25],[0.15,0.15],[0.16,0.08],[0.17,0.3],[0.18,0.2],[0.19,0.12],[0.2,0.36],[0.21,0.25],[0.22,0.15],[0.23,0.42],[0.24,0.3],[0.25,0.2],[0.26,0.5],[0.27,0.35],[0.28,0.25],[0.3,0.45],[0.3,0.3],[0.32,0.55],[0.33,0.38],[0.34,0.7],[0.35,0.3],[0.37,0.5],[0.38,0.85],[0.4,0.4],[0.41,0.65],[0.43,0.95],[0.44,0.5],[0.46,0.75],[0.48,1.1],[0.5,0.6],[0.52,0.9],[0.54,1.2],[0.55,0.5],[0.57,0.8],[0.6,1.05],[0.6,0.6],[0.63,1.3],[0.65,0.75],[0.67,0.95],[0.7,1.15],[0.72,0.7],[0.75,1.05],[0.78,1.3],[0.8,0.9],[0.83,1.15],[0.86,0.8],[0.88,1.25],[0.9,1.0],[0.92,1.3],[0.95,1.2],[0.5,1.4],[0.55,1.6],[0.45,1.3],[0.62,1.7],[0.68,1.5],[0.72,1.8],[0.58,2.0],[0.52,2.2],[0.66,2.3],[0.7,2.6],[0.75,2.4],[0.8,1.6],[0.85,2.0],[0.9,1.8],[0.48,1.8],[0.4,1.1],[0.36,1.3],[0.3,0.9],[0.26,0.75],[0.22,0.6],[0.42,1.5],[0.78,3.1],[0.68,2.9],[0.88,2.7],[0.95,2.6],[0.55,2.45],
[0.11,0.1],[0.13,0.16],[0.15,0.22],[0.17,0.18],[0.19,0.28],[0.21,0.32],[0.23,0.28],[0.25,0.38],[0.27,0.45],[0.29,0.5],[0.31,0.4],[0.33,0.6],[0.35,0.55],[0.36,0.72],[0.38,0.6],[0.4,0.8],[0.42,0.55],[0.44,0.9],[0.46,0.62],[0.48,0.85],[0.5,1.0],[0.52,0.7],[0.54,0.95],[0.56,1.1],[0.58,0.65],[0.59,1.25],[0.61,0.85],[0.63,1.0],[0.65,1.2],[0.67,1.35],[0.69,0.85],[0.71,1.0],[0.73,1.25],[0.76,1.4],[0.78,0.95],[0.81,1.1],[0.84,1.3],[0.87,1.45],[0.9,1.15],[0.93,1.0],[0.97,1.3],[0.53,1.5],[0.57,1.7],[0.6,1.9],[0.64,2.1],[0.7,2.2],[0.74,2.0],[0.82,2.2],[0.86,2.5],[0.9,2.3],[0.62,2.7],[0.72,3.0],[0.8,2.8],[0.65,1.6],[0.45,1.6],[0.5,1.7]];

// Panel 5: 12 hpi THF vs p53-/-
const p5Black = [[-0.92,3.06],[-1.05,2.89],[-0.61,2.35],[-0.87,2.28],[-1.0,1.59],[-0.77,1.66],[-0.53,1.82],[-0.45,1.43],[-0.42,1.37],[-0.36,1.34],[-0.33,1.45],[-0.31,1.37],[-0.3,1.4],[-0.35,1.47],[-0.47,1.3],[-0.43,1.47],
[0.59,2.44],[0.7,2.24],[0.78,2.15],[0.51,1.71],[0.59,1.64],[0.5,1.22],[0.56,1.17],
[-0.35,1.1],[-0.33,0.9],[-0.32,1.05],[-0.3,0.8],[-0.29,0.95],[-0.28,0.7],[-0.27,0.85],[-0.26,0.6],[-0.25,0.75],[-0.24,0.52],[-0.23,0.65],[-0.22,0.45],[-0.21,0.55],[-0.2,0.38],[-0.19,0.48],[-0.18,0.32],[-0.17,0.42],[-0.16,0.28],[-0.15,0.35],[-0.14,0.22],[-0.13,0.3],[-0.12,0.18],[-0.4,1.05],[-0.45,1.1],[-0.5,0.95],[-0.55,0.85],[-0.6,0.7],[-0.65,0.55],[-0.38,0.75],[-0.42,0.65],[-0.46,0.55],[-0.34,0.55],[-0.3,0.62],[-0.8,1.15],[-0.75,1.2],[-0.25,0.95],[-0.58,0.45],
[-0.34,1.0],[-0.31,0.88],[-0.29,0.75],[-0.27,0.78],[-0.25,0.65],[-0.24,0.8],[-0.23,0.55],[-0.21,0.62],[-0.2,0.45],[-0.18,0.4],[-0.16,0.35],[-0.14,0.28],[-0.39,0.95],[-0.43,0.9],[-0.37,0.85],[-0.33,0.72],[-0.28,0.58],[-0.26,0.5],
[0.25,0.5],[0.28,0.7],[0.3,0.9],[0.32,1.1],[0.34,0.6],[0.36,0.8],[0.38,1.0],[0.4,0.45],[0.42,0.7],[0.44,0.9],[0.46,1.05],[0.3,0.35],[0.35,0.4],[0.22,0.3],[0.28,1.15],[0.45,0.6],[0.4,1.2],[0.48,0.8],[0.27,0.6],[0.31,0.75],[0.33,0.95],[0.37,0.7],[0.41,0.95],[0.43,1.1],[0.47,0.95],[0.5,1.0],[0.53,1.1],[0.38,0.55]];
const p5Pink = [[-1.37,4.08],[-1.17,3.4],[-1.03,3.09],[-1.28,2.74],[-1.18,2.72],[-0.78,2.52],[-1.19,2.15],[-1.14,1.96],[-1.1,1.95],[-1.01,1.94],[-1.01,1.9],[-0.84,1.89],[-1.08,1.56],[-1.13,1.37],[-1.0,1.33],[-0.97,1.43],[-0.9,1.37],[0.61,1.85],
[-0.95,1.25],[-0.9,1.1],[-0.88,1.3],[-0.85,1.15],[-0.82,1.0],[-0.8,1.25],[-0.78,0.95],[-0.76,1.1],[-0.74,0.85],[-0.72,1.0],[-0.7,0.78],[-0.68,1.15],[-0.66,0.9],[-0.64,0.7],[-0.62,0.85],[-0.6,1.0],[-0.58,0.62],[-0.56,0.78],[-0.54,0.55],[-0.52,0.7],[-0.5,0.48],[-0.48,0.62],[-0.46,0.42],[-0.44,0.55],[-0.42,0.35],[-0.4,0.5],[-0.38,0.3],[-0.36,0.42],[-0.34,0.25],[-0.32,0.36],[-0.3,0.2],[-0.28,0.3],[-0.26,0.15],[-0.24,0.22],[-0.22,0.1],[-0.2,0.16],[-0.92,1.45],[-0.85,1.4],[-0.8,1.5],[-0.75,1.35],[-0.7,1.45],[-0.66,1.3],[-0.62,1.2],[-0.78,1.6],[-0.86,1.75],[-0.72,1.75],[-0.64,1.55],[-0.57,1.1],[-0.53,0.9],[-0.48,0.8],[-0.45,0.95],[-0.4,0.7],[-0.36,0.6],[-0.3,0.45],[-0.25,0.35],[-0.7,1.9],
[-0.9,1.2],[-0.87,1.0],[-0.83,1.05],[-0.79,0.85],[-0.77,1.25],[-0.73,0.95],[-0.71,1.2],[-0.69,0.85],[-0.67,0.72],[-0.63,0.92],[-0.61,0.62],[-0.59,0.8],[-0.55,0.68],[-0.51,0.58],[-0.49,0.72],[-0.47,0.5],[-0.43,0.45],[-0.41,0.6],[-0.39,0.4],[-0.37,0.5],[-0.35,0.35],[-0.33,0.45],[-0.31,0.3],[-0.29,0.38],[-0.27,0.25],[-0.6,1.15],[-0.65,1.25],[-0.55,1.0],[-0.5,0.85],[-0.45,0.7],[-0.83,1.3],[-0.95,1.35],
[0.2,0.2],[0.25,0.3],[0.3,0.5],[0.35,0.4],[0.15,0.1],[0.4,0.8]];
const p5Green = [[-1.31,3.49],[-1.19,3.08],[-0.69,3.0],[-0.48,2.85],[-0.6,2.5],[-0.46,2.37],[-0.92,1.67],
[1.28,2.86],[0.82,2.15],[0.96,2.11],[0.98,2.05],[0.83,1.92],[0.94,1.79],[0.87,1.74],[0.93,1.56],[0.76,1.76],[0.41,1.42],[0.45,1.41],[0.56,1.4],[0.63,1.24],[0.71,1.17],[0.85,1.12],[0.82,0.9],[0.66,0.83],
[-0.45,0.5],[-0.42,0.75],[-0.4,0.3],[-0.38,0.6],[-0.36,0.22],[-0.35,0.48],[-0.33,0.18],[-0.32,0.4],[-0.3,0.12],[-0.3,0.32],[-0.28,0.22],[-0.27,0.1],[-0.26,0.3],[-0.25,0.18],[-0.24,0.08],[-0.23,0.25],[-0.22,0.14],[-0.21,0.05],[-0.2,0.22],[-0.19,0.11],[-0.18,0.04],[-0.17,0.17],[-0.16,0.09],[-0.15,0.03],[-0.14,0.13],[-0.13,0.07],[-0.12,0.02],[-0.11,0.1],[-0.1,0.05],[-0.09,0.02],[-0.08,0.07],[-0.07,0.03],[-0.06,0.05],[-0.05,0.02],[-0.04,0.03],[-0.03,0.01],[-0.02,0.02],[-0.5,0.7],[-0.55,0.65],[-0.48,0.35],[-0.52,0.4],[-0.6,0.55],[-0.62,1.05],[-0.7,1.25],[-0.58,1.3],[-0.52,1.2],[-0.65,0.85],[-0.43,0.95],[-0.38,0.45],[-0.75,1.5],[-0.56,0.3],[-0.44,0.2],
[-0.42,0.4],[-0.39,0.52],[-0.37,0.3],[-0.34,0.36],[-0.31,0.22],[-0.29,0.28],[-0.27,0.38],[-0.25,0.1],[-0.23,0.18],[-0.21,0.28],[-0.19,0.2],[-0.17,0.1],[-0.14,0.08],[-0.11,0.05],[-0.45,0.65],[-0.48,0.55],[-0.53,0.5],[-0.58,0.95],
[0.01,0.01],[0.02,0.03],[0.03,0.05],[0.04,0.02],[0.05,0.08],[0.06,0.04],[0.07,0.11],[0.08,0.06],[0.09,0.14],[0.1,0.03],[0.1,0.09],[0.11,0.18],[0.12,0.12],[0.13,0.06],[0.13,0.22],[0.14,0.15],[0.15,0.26],[0.16,0.09],[0.16,0.19],[0.17,0.3],[0.18,0.22],[0.19,0.12],[0.19,0.34],[0.2,0.26],[0.21,0.38],[0.22,0.16],[0.22,0.45],[0.23,0.3],[0.24,0.55],[0.25,0.22],[0.25,0.38],[0.26,0.62],[0.27,0.45],[0.28,0.28],[0.29,0.55],[0.3,0.7],[0.31,0.4],[0.32,0.62],[0.33,0.8],[0.34,0.48],[0.35,0.95],[0.36,0.6],[0.37,0.35],[0.38,0.75],[0.39,0.52],[0.4,0.9],[0.41,0.6],[0.42,1.0],[0.43,0.45],[0.44,0.78],[0.45,0.55],[0.46,0.85],[0.48,0.62],[0.5,0.7],[0.52,0.85],[0.54,0.75],[0.55,1.0],[0.58,0.9],[0.35,1.2],[0.38,1.35],[0.45,1.5],[0.3,1.05],[0.48,1.1],[0.55,0.55],
[0.03,0.02],[0.05,0.05],[0.07,0.06],[0.09,0.08],[0.11,0.12],[0.13,0.15],[0.15,0.16],[0.17,0.2],[0.19,0.26],[0.21,0.3],[0.23,0.38],[0.25,0.45],[0.27,0.35],[0.29,0.45],[0.31,0.55],[0.33,0.5],[0.35,0.65],[0.37,0.58],[0.39,0.68],[0.41,0.75],[0.43,0.85],[0.45,0.7],[0.47,0.75],[0.49,0.85],[0.51,0.6],[0.53,0.95],[0.57,0.72],[0.6,0.85],[0.62,0.95],[0.27,0.85],[0.32,1.0]];

// Panel 6: 24 hpi THF vs p53-/-
const p6Black = [[-1.2,5.0],[-1.13,5.0],[-1.02,5.0],[-0.7,4.68],[-1.16,4.38],[-1.02,4.1],[-0.49,3.92],[-0.44,3.92],[-0.62,3.73],[-0.74,3.54],[-0.7,3.49],[-0.76,3.32],[-0.71,3.26],[-1.29,3.33],[-1.27,3.16],[-1.53,3.04],[-1.44,2.8],[-1.32,2.43],[-0.94,2.8],[-0.6,2.87],[-0.51,2.8],[-0.4,2.83],[-0.35,2.91],[-0.65,2.59],[-0.54,2.51],[-0.47,2.56],
[0.8,5.0],[0.87,5.0],[1.0,4.16],[0.58,3.84],[0.49,3.76],[0.67,3.64],[0.91,3.62],[0.69,3.46],[0.73,3.3],[0.91,3.36],[1.02,3.22],[0.44,3.1],[0.69,2.95],[0.58,2.71],[0.47,2.47],[0.69,2.07],[0.36,2.07],[0.45,1.87],
[-0.5,2.0],[-0.48,1.85],[-0.46,1.7],[-0.45,1.95],[-0.44,1.55],[-0.42,1.8],[-0.41,1.4],[-0.4,1.65],[-0.39,1.25],[-0.38,1.5],[-0.37,1.1],[-0.36,1.35],[-0.35,0.95],[-0.35,1.6],[-0.34,1.2],[-0.33,0.85],[-0.32,1.05],[-0.31,1.4],[-0.3,0.75],[-0.3,0.95],[-0.29,1.15],[-0.28,0.65],[-0.28,0.85],[-0.27,1.0],[-0.26,0.55],[-0.26,0.75],[-0.25,0.9],[-0.24,0.48],[-0.24,0.65],[-0.23,0.8],[-0.22,0.4],[-0.22,0.58],[-0.21,0.7],[-0.2,0.35],[-0.2,0.5],[-0.19,0.62],[-0.18,0.3],[-0.18,0.44],[-0.17,0.55],[-0.16,0.26],[-0.15,0.4],[-0.55,1.75],[-0.6,1.5],[-0.52,1.5],[-0.58,1.3],[-0.47,1.3],[-0.43,1.1],[-0.4,0.9],[-0.65,1.6],[-0.7,1.85],[-0.55,2.2],[-0.48,2.3],[-0.42,2.1],[-0.38,1.9],[-0.45,2.5],[-0.52,1.1],[-0.35,2.2],[-0.62,1.2],[-0.5,0.8],[-0.3,1.3],[-0.27,1.25],
[-0.49,1.6],[-0.47,1.45],[-0.46,2.0],[-0.44,1.25],[-0.43,1.7],[-0.42,1.35],[-0.41,1.95],[-0.4,1.1],[-0.39,1.5],[-0.37,1.6],[-0.36,1.0],[-0.35,1.35],[-0.34,1.75],[-0.33,1.15],[-0.32,0.8],[-0.31,1.2],[-0.3,1.5],[-0.29,0.85],[-0.28,1.05],[-0.27,0.7],[-0.26,0.9],[-0.25,0.6],[-0.24,0.8],[-0.23,0.55],[-0.22,0.75],[-0.21,0.5],[-0.2,0.65],[-0.19,0.4],[-0.17,0.45],[-0.16,0.38],[-0.45,2.3],[-0.38,2.4],[-0.42,2.6],[-0.5,2.2],[-0.55,1.9],[-0.36,2.3],
[0.15,0.3],[0.18,0.5],[0.2,0.7],[0.22,0.4],[0.24,0.9],[0.25,0.6],[0.27,1.1],[0.28,0.75],[0.3,1.3],[0.3,0.5],[0.32,0.95],[0.33,1.5],[0.35,1.15],[0.36,0.7],[0.38,1.7],[0.38,1.35],[0.4,0.9],[0.42,1.85],[0.43,1.2],[0.45,1.55],[0.47,1.0],[0.48,1.9],[0.28,1.45],[0.25,1.2],[0.22,1.0],[0.35,1.9],[0.4,2.2],[0.44,2.4],[0.5,1.4],[0.2,0.9],
[0.19,0.6],[0.21,0.8],[0.23,0.7],[0.26,0.95],[0.29,1.0],[0.31,0.75],[0.34,1.1],[0.37,0.95],[0.39,1.5],[0.41,1.3],[0.44,1.7],[0.46,1.35],[0.35,1.55],[0.3,1.6]];
const p6Pink = [[-1.76,4.68],[-1.36,5.0],[-0.93,5.0],[-1.47,3.76],[-1.32,4.04],[-1.27,4.18],[-1.15,3.89],[-1.16,3.48],[-1.25,3.26],[-1.56,2.87],[-1.54,3.03],[-1.22,2.8],[-1.16,2.72],[-1.21,2.59],[-1.25,1.71],[-1.34,2.39],[-1.03,3.2],[-0.87,2.47],[-0.84,2.75],[-0.76,2.84],
[-1.0,1.8],[-0.98,1.5],[-0.95,2.0],[-0.92,1.3],[-0.9,1.65],[-0.88,1.1],[-0.86,1.45],[-0.84,1.85],[-0.82,1.0],[-0.8,1.3],[-0.78,1.6],[-0.76,0.9],[-0.74,1.2],[-0.72,1.5],[-0.7,0.8],[-0.68,1.05],[-0.66,1.35],[-0.64,0.7],[-0.62,0.95],[-0.6,1.2],[-0.58,0.62],[-0.56,0.85],[-0.55,1.1],[-0.52,0.55],[-0.5,0.75],[-0.48,0.95],[-0.46,0.48],[-0.44,0.65],[-0.42,0.4],[-0.4,0.55],[-0.38,0.32],[-0.36,0.45],[-0.34,0.25],[-0.32,0.38],[-0.3,0.2],[-0.28,0.3],[-0.26,0.14],[-0.24,0.22],[-0.22,0.1],[-0.8,2.0],[-0.75,1.75],[-0.7,2.1],[-0.65,1.9],[-0.6,1.7],[-0.9,2.3],[-0.85,2.2],[-1.05,1.4],[-0.72,0.6],[-0.65,0.5],[-0.55,0.4],[-0.95,0.95],[-0.88,0.75],[-0.62,1.5],[-0.58,1.9],[-1.08,2.1],[-1.12,1.9],
[-0.97,1.6],[-0.93,1.75],[-0.89,1.35],[-0.87,1.55],[-0.83,1.4],[-0.81,1.65],[-0.79,1.15],[-0.77,1.4],[-0.73,1.3],[-0.71,1.0],[-0.69,1.45],[-0.67,0.9],[-0.63,1.15],[-0.61,0.8],[-0.59,1.05],[-0.57,0.72],[-0.53,0.9],[-0.51,0.65],[-0.49,0.6],[-0.47,0.8],[-0.45,0.55],[-0.43,0.5],[-0.41,0.62],[-0.39,0.42],[-0.37,0.38],[-0.35,0.3],[-0.33,0.28],[-0.31,0.25],[-0.29,0.22],[-0.75,1.05],[-0.85,1.0],[-0.92,1.1],[-0.96,1.25],[-1.02,1.55],
[0.25,0.3],[0.3,0.6],[0.35,0.4],[0.4,0.8],[0.45,1.2],[0.2,0.15],[0.38,1.1],[0.5,0.7]];
const p6Green = [[-1.18,4.68],[-0.96,4.38],[-0.89,4.38],[-0.69,4.28],[-0.62,4.28],[-1.07,4.14],[-0.81,3.66],[-0.91,3.18],[-1.02,2.88],[-0.73,2.71],[-1.16,2.23],[-0.94,2.19],[-0.89,2.11],[-0.91,1.67],[-1.07,1.21],[-1.13,1.23],[-0.84,0.53],
[0.58,5.0],[0.69,5.0],[0.73,5.0],[0.76,5.0],[1.02,5.0],[1.09,5.0],[0.97,4.68],[1.0,4.54],[0.76,4.34],[0.94,4.26],[0.69,4.1],[0.87,4.1],[1.1,3.86],[1.13,3.73],[1.27,3.66],[1.02,3.7],[1.31,3.54],[0.51,3.46],[0.62,3.34],[0.38,3.2],[0.47,3.2],[1.15,2.99],[1.29,3.0],[1.02,2.87],[1.09,2.83],[0.84,2.79],[0.65,2.67],[0.76,2.71],[1.16,2.39],[1.09,2.35],[0.87,2.39],[0.54,2.31],[0.64,2.19],[0.33,2.17],[0.76,1.87],[0.94,1.67],[0.91,1.43],[1.0,1.21],[0.94,1.04],[0.47,1.67],
[-0.4,0.3],[-0.38,0.5],[-0.36,0.2],[-0.34,0.4],[-0.32,0.15],[-0.32,0.6],[-0.3,0.3],[-0.29,0.45],[-0.28,0.12],[-0.27,0.25],[-0.26,0.38],[-0.25,0.08],[-0.24,0.18],[-0.23,0.3],[-0.22,0.05],[-0.21,0.15],[-0.2,0.25],[-0.19,0.08],[-0.18,0.18],[-0.17,0.03],[-0.16,0.12],[-0.15,0.2],[-0.14,0.06],[-0.13,0.14],[-0.12,0.02],[-0.11,0.09],[-0.1,0.15],[-0.09,0.04],[-0.08,0.08],[-0.07,0.02],[-0.06,0.05],[-0.05,0.08],[-0.04,0.02],[-0.03,0.04],[-0.02,0.01],[-0.01,0.02],[-0.45,0.4],[-0.5,0.55],[-0.55,0.7],[-0.42,0.75],[-0.48,1.0],[-0.6,0.9],[-0.65,1.1],[-0.7,1.3],[-0.75,1.5],[-0.8,0.7],[-0.9,0.5],[-0.55,1.4],[-0.45,1.2],[-0.38,1.0],[-0.5,1.7],[-0.62,2.0],[-0.33,1.5],[-0.4,1.8],
[-0.37,0.35],[-0.35,0.5],[-0.33,0.25],[-0.31,0.4],[-0.29,0.18],[-0.27,0.35],[-0.25,0.28],[-0.23,0.15],[-0.21,0.22],[-0.19,0.15],[-0.17,0.1],[-0.15,0.1],[-0.13,0.08],[-0.11,0.05],[-0.42,0.55],[-0.47,0.65],[-0.52,0.9],[-0.58,1.1],[-0.68,0.85],
[0.01,0.01],[0.02,0.03],[0.03,0.06],[0.04,0.02],[0.05,0.1],[0.06,0.05],[0.07,0.14],[0.08,0.08],[0.09,0.03],[0.09,0.2],[0.1,0.12],[0.11,0.26],[0.12,0.06],[0.12,0.16],[0.13,0.32],[0.14,0.22],[0.15,0.1],[0.15,0.4],[0.16,0.28],[0.17,0.48],[0.18,0.15],[0.18,0.35],[0.19,0.56],[0.2,0.42],[0.21,0.25],[0.21,0.65],[0.22,0.5],[0.23,0.75],[0.24,0.3],[0.24,0.58],[0.25,0.85],[0.26,0.45],[0.27,0.7],[0.28,1.0],[0.29,0.55],[0.3,0.85],[0.31,1.15],[0.32,0.4],[0.33,0.7],[0.34,1.3],[0.35,1.0],[0.36,0.55],[0.37,1.45],[0.38,0.85],[0.4,1.2],[0.41,0.6],[0.42,1.55],[0.44,0.95],[0.45,1.35],[0.46,0.75],[0.48,1.6],[0.5,1.1],[0.52,0.9],[0.54,1.4],[0.56,1.75],[0.58,1.2],[0.6,1.0],[0.62,1.5],[0.65,1.85],[0.68,1.3],[0.7,1.1],[0.72,1.6],[0.5,1.9],[0.45,2.1],[0.55,2.3],[0.4,1.9],[0.6,2.5],[0.3,1.6],[0.35,1.75],[0.78,1.4],[0.85,1.6],[0.62,0.7],
[0.1,0.08],[0.12,0.2],[0.14,0.12],[0.16,0.18],[0.17,0.3],[0.19,0.25],[0.2,0.5],[0.22,0.35],[0.23,0.6],[0.25,0.4],[0.26,0.68],[0.27,0.5],[0.29,0.75],[0.3,0.6],[0.31,0.9],[0.32,0.7],[0.33,1.05],[0.35,0.8],[0.36,1.2],[0.37,0.6],[0.38,1.0],[0.4,1.35],[0.41,0.8],[0.43,1.1],[0.44,1.45],[0.46,1.2],[0.47,0.9],[0.48,1.35],[0.5,1.55],[0.51,0.95],[0.53,1.25],[0.55,1.5],[0.57,1.05],[0.59,1.35],[0.61,1.65],[0.63,1.25],[0.66,1.55],[0.69,1.4],[0.71,1.75],[0.75,1.55],[0.8,1.7],[0.55,1.95],[0.5,2.15],[0.58,2.1],[0.64,2.3],[0.45,1.7],[0.42,1.8],[0.38,1.55],[0.34,1.5]];

const panelSeries = [
  [p1Green, p1Pink, p1Black],
  [p2Green, p2Pink, p2Black],
  [p3Green, p3Pink, p3Black],
  [p4Green, p4Pink, p4Black],
  [p5Green, p5Pink, p5Black],
  [p6Green, p6Pink, p6Black]
];

// ---------------- LAYOUT / STYLE ----------------
const seriesColors = ["#1fab4a", "#f3838a", "#111111"];
const layouts = [
  {frame:[63,78,315,303],  x:[-1.477,1.121], y:[-0.163,4.249], pa:[-0.055,4.05], pb:[-0.77,-0.03], title:[192,68], ylab:28, xlab:213, tickPad:4.5, labOff:40},
  {frame:[400,78,651,303], x:[-1.709,0.934], y:[-0.199,5.197], pa:[0.036,4.93],  pb:[-0.764,-0.03], title:[537,68], ylab:366, xlab:539, tickPad:4.5, labOff:40},
  {frame:[63,425,315,648], x:[-1.213,1.618], y:[-0.154,4.127], pa:[-0.048,3.95], pb:[-0.716,-0.02], title:[188,412], ylab:28, xlab:212, tickPad:3.5, labOff:38},
  {frame:[402,423,651,647],x:[-1.718,3.052], y:[-0.192,5.18],  pa:[-0.103,4.91], pb:[-0.646,-0.02], title:[520,412], ylab:368, xlab:536, tickPad:3.5, labOff:38},
  {frame:[64,763,316,988], x:[-2.041,1.411], y:[-0.156,4.234], pa:[-0.612,4.0],  pb:[-0.726,0.045], title:[188,753], ylab:28, xlab:211, tickPad:1.5, labOff:36},
  {frame:[401,763,652,988],x:[-2.38,3.107],  y:[-0.191,5.179], pa:[-0.146,4.85], pb:[-0.598,-0.064],title:[528,753], ylab:365, xlab:534, tickPad:1.5, labOff:36}
];
const headerPos = [[194,37],[531,37]];

const svg = d3.select("#c");

headerPos.forEach((p, i) => {
  svg.append("text").attr("transform", `translate(${p[0]},${p[1]}) scale(1.1,1)`)
    .attr("text-anchor", "middle").attr("font-size", 27).text(timeLabels[i]);
});

layouts.forEach((L, i) => {
  const [x0, y0, x1, y1] = L.frame;
  const xs = d3.scaleLinear().domain(L.x).range([x0, x1]);
  const ys = d3.scaleLinear().domain(L.y).range([y1, y0]);
  const g = svg.append("g");
  const clipId = "clip" + i;
  svg.append("clipPath").attr("id", clipId).append("rect")
    .attr("x", x0).attr("y", y0).attr("width", x1 - x0).attr("height", y1 - y0);

  // title
  const t = g.append("text").attr("transform", `translate(${L.title[0]},${L.title[1]}) scale(1.16,1)`)
    .attr("text-anchor", "middle").attr("font-size", 24);
  t.append("tspan").text(panelTitles[i]);
  if (titleSup[i]) t.append("tspan").attr("font-size", 14).attr("dy", -14).text(titleSup[i]);

  const plot = g.append("g").attr("clip-path", `url(#${clipId})`);
  // threshold lines
  const lineColor = (i === 3) ? "#9a9ee0" : "#7ea3e4";
  const hy = Math.round(ys(pValueCut)) + 0.5;
  plot.append("line").attr("x1", x0).attr("x2", x1).attr("y1", hy).attr("y2", hy)
    .attr("stroke", lineColor).attr("stroke-width", 1);
  foldCuts.forEach(c => {
    if (c > L.x[0] && c < L.x[1]) {
      const vx = Math.round(xs(c)) + 0.5;
      plot.append("line").attr("x1", vx).attr("x2", vx).attr("y1", y0).attr("y2", y1)
        .attr("stroke", lineColor).attr("stroke-width", 1);
    }
  });
  // points
  panelSeries[i].forEach((arr, k) => {
    plot.append("g").selectAll("circle").data(arr).join("circle")
      .attr("cx", d => xs(d[0])).attr("cy", d => ys(d[1])).attr("r", 1.55)
      .attr("fill", seriesColors[k]);
  });
  // frame
  g.append("rect").attr("x", x0).attr("y", y0).attr("width", x1 - x0).attr("height", y1 - y0)
    .attr("fill", "none").attr("stroke", "#a8928a").attr("stroke-width", 1.3);

  // axes
  const xa = g.append("g").attr("transform", `translate(0,${y1})`)
    .call(d3.axisBottom(xs).tickValues(xTickValues[i]).tickSize(5).tickPadding(L.tickPad)
      .tickFormat(d => xTickUnlabelled[i].includes(d) ? "" : String(d)));
  const ya = g.append("g").attr("transform", `translate(${x0},0)`)
    .call(d3.axisLeft(ys).tickValues(yTickValues[i]).tickSize(5).tickPadding(4)
      .tickFormat(d => String(d)));
  [xa, ya].forEach(a => {
    a.select(".domain").remove();
    a.selectAll(".tick line").attr("stroke", "#8a8a8a");
    a.selectAll(".tick text").attr("font-size", 19).attr("font-family", '"Liberation Serif", serif').attr("fill", "#111");
  });

  // percentage labels
  g.append("text").attr("x", xs(L.pa[0])).attr("y", ys(L.pa[1])).attr("dy", "0.35em")
    .attr("text-anchor", "middle").attr("font-size", 12).text(pctAbove[i]);
  g.append("text").attr("x", xs(L.pb[0])).attr("y", ys(L.pb[1])).attr("dy", "0.35em")
    .attr("text-anchor", "middle").attr("font-size", 12).text(pctBelow[i]);

  // axis labels
  const xl = g.append("text").attr("transform", `translate(${L.xlab},${y1 + L.labOff}) scale(1.12,1)`)
    .attr("text-anchor", "middle").attr("font-size", 22);
  xl.append("tspan").text("log");
  xl.append("tspan").attr("font-size", 15).attr("dy", 4).text("2");
  xl.append("tspan").attr("dy", -4).text("(fold change)");

  const yl = g.append("text").attr("transform", `translate(${L.ylab},${(y0 + y1) / 2}) rotate(-90)`)
    .attr("text-anchor", "middle").attr("font-size", 21);
  yl.append("tspan").text("-log");
  yl.append("tspan").attr("font-size", 15).attr("dy", 5).text("10");
  yl.append("tspan").attr("dy", -5).text("(p-value)");
});
</script>
</body></html>
